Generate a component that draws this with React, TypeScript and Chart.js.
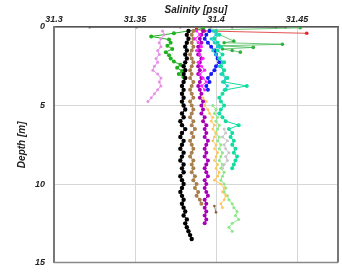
import React, { useEffect, useRef } from "react";
import { Chart, registerables } from "chart.js";
Chart.register(...registerables);

// shared depth grid [m]
const DEPTHS = [
  0.25, 0.5, 0.75, 1.0, 1.25, 1.5, 1.75, 2.0, 2.25, 2.5,
  2.75, 3.0, 3.25, 3.5, 3.75, 4.0, 4.25, 4.5, 4.75, 5.0,
  5.25, 5.5, 5.75, 6.0, 6.25, 6.5, 6.75, 7.0, 7.25, 7.5,
  7.75, 8.0, 8.25, 8.5, 8.75, 9.0, 9.25, 9.5, 9.75, 10.0,
  10.25, 10.5, 10.75, 11.0, 11.25, 11.5, 11.75, 12.0, 12.25, 12.5,
  12.75, 13.0, 13.25, 13.5, 13.75,
];

const X_TICKS = [31.3, 31.35, 31.4, 31.45];
const Y_TICKS = [0, 5, 10, 15];

// salinity profiles (psu), starting at DEPTHS[0] unless noted
const BLACK = [
  31.383, 31.382, 31.383, 31.382, 31.381, 31.382, 31.381, 31.382, 31.381, 31.38,
  31.381, 31.38, 31.381, 31.38, 31.379, 31.38, 31.379, 31.38, 31.379, 31.38,
  31.381, 31.379, 31.38, 31.378, 31.379, 31.381, 31.379, 31.378, 31.38, 31.379,
  31.378, 31.38, 31.379, 31.378, 31.38, 31.379, 31.38, 31.378, 31.379, 31.38,
  31.379, 31.378, 31.379, 31.38, 31.379, 31.38, 31.381, 31.38, 31.382, 31.381,
  31.382, 31.383, 31.384, 31.385,
];
const BROWN = [
  31.386, 31.385, 31.386, 31.385, 31.386, 31.385, 31.384, 31.385, 31.386, 31.385,
  31.384, 31.385, 31.384, 31.386, 31.385, 31.384, 31.385, 31.386, 31.384, 31.385,
  31.386, 31.385, 31.384, 31.386, 31.385, 31.387, 31.385, 31.386, 31.384, 31.385,
  31.386, 31.385, 31.384, 31.386, 31.385, 31.386, 31.385, 31.387, 31.386, 31.388,
  31.387, 31.389, 31.388, 31.39, 31.391,
];
const PURPLE = [
  31.392, 31.391, 31.39, 31.391, 31.389, 31.39, 31.389, 31.391, 31.39, 31.389,
  31.39, 31.389, 31.391, 31.39, 31.389, 31.39, 31.391, 31.39, 31.392, 31.391,
  31.392, 31.391, 31.393, 31.392, 31.394, 31.393, 31.394, 31.393, 31.395, 31.394,
  31.393, 31.394, 31.393, 31.395, 31.394, 31.393, 31.394, 31.395, 31.393, 31.394,
  31.393, 31.394, 31.395, 31.393, 31.394, 31.393, 31.394, 31.393, 31.394, 31.393,
];
const MAGENTA = [
  31.388, 31.39, 31.387, 31.389, 31.391, 31.388, 31.39, 31.392, 31.389, 31.391,
  31.393, 31.39, 31.392, 31.394, 31.391, 31.393,
];
const VIOLET = [
  31.367, 31.368, 31.366, 31.365, 31.366, 31.364, 31.365, 31.363, 31.364, 31.362,
  31.361, 31.364, 31.366, 31.365, 31.366, 31.364, 31.362, 31.36, 31.358,
];
const BLUE = [
  31.396, 31.394, 31.393, 31.395, 31.397, 31.399, 31.4, 31.401, 31.402, 31.4,
  31.399, 31.397, 31.395, 31.396, 31.394, 31.395,
];
const CYAN = [
  31.398, 31.4, 31.397, 31.399, 31.401, 31.398, 31.4, 31.402, 31.404, 31.402,
  31.405, 31.403, 31.406, 31.404, 31.407, 31.405,
];
const TEAL = [
  31.4, 31.402, 31.399, 31.401, 31.403, 31.401, 31.404, 31.402, 31.405, 31.403,
  31.405, 31.404, 31.407, 31.405, 31.419, 31.406, 31.404, 31.402, 31.403, 31.405,
  31.403, 31.402, 31.404, 31.406, 31.414, 31.408, 31.41, 31.409, 31.411, 31.41,
  31.412, 31.411, 31.413, 31.412, 31.411, 31.41,
];
// starts at 5.0 m
const LIGHTGREEN = [
  31.398, 31.4, 31.399, 31.401, 31.4, 31.402, 31.401, 31.4, 31.402, 31.401,
  31.403, 31.402, 31.404, 31.403, 31.402, 31.404, 31.403, 31.405, 31.404, 31.403,
  31.405, 31.406, 31.405, 31.407, 31.408, 31.41, 31.411, 31.413, 31.412, 31.414,
  31.41, 31.408, 31.41,
];
// starts at 4.5 m
const ORANGE = [
  31.392, 31.394, 31.393, 31.395, 31.396, 31.398, 31.397, 31.399, 31.398, 31.4,
  31.399, 31.398, 31.4, 31.399, 31.401, 31.4, 31.399, 31.401, 31.4, 31.402,
  31.401, 31.399, 31.403, 31.405, 31.404, 31.406, 31.405, 31.403, 31.404,
];
// starts at 6.5 m
const LIGHTGRAY = [
  31.405, 31.406, 31.404, 31.407, 31.405, 31.406, 31.408, 31.406, 31.407, 31.405, 31.404,
];

const GREEN_DEPTH = [0.1, 0.4, 0.6, 0.8, 1.0, 1.2, 1.4, 1.6, 1.8, 2.0, 2.2, 2.4, 2.6, 2.8, 3.0, 3.2];
const GREEN_SAL = [
  31.392, 31.374, 31.36, 31.371, 31.372, 31.37, 31.373, 31.369, 31.371, 31.372,
  31.374, 31.378, 31.376, 31.379, 31.377, 31.38,
];
const GREEN2_DEPTH = [0.05, 0.2, 0.9, 1.0, 1.1, 1.2, 1.3, 1.4, 1.5, 1.6];
const GREEN2_SAL = [31.452, 31.396, 31.411, 31.405, 31.441, 31.402, 31.423, 31.404, 31.41, 31.415];
const RED_DEPTH = [0.15, 0.25, 0.4];
const RED_SAL = [31.388, 31.393, 31.456];
const SURF_DEPTH = [0.02, 0.02, 0.02, 0.02, 0.02, 0.02, 0.02];
const SURF_SAL = [31.322, 31.351, 31.378, 31.397, 31.41, 31.437, 31.443];
const SIENNA_DEPTH = [11.4, 11.8];
const SIENNA_SAL = [31.399, 31.4];

const grid = (vals: number[], start: number) =>
  vals.map((v, i) => ({ x: v, y: DEPTHS[start + i] }));
const pairs = (xs: number[], ys: number[]) => xs.map((v, i) => ({ x: v, y: ys[i] }));

const FONT = "'Liberation Sans', Arial, sans-serif";

export default function App() {
  const ref = useRef<HTMLCanvasElement>(null);
  useEffect(() => {
    document.body.style.margin = "0";
    const ds = (label: string, data: any[], color: string, r = 1.8, bw = 1) => ({
      label,
      data,
      showLine: true,
      borderColor: color,
      backgroundColor: color,
      pointBackgroundColor: color,
      pointBorderColor: color,
      pointRadius: r,
      pointBorderWidth: 0,
      borderWidth: bw,
    });
    const frame = {
      id: "frame",
      afterDatasetsDraw(chart: any) {
        const { ctx, chartArea: a } = chart;
        ctx.save();
        ctx.strokeStyle = "#888";
        ctx.lineWidth = 1.5;
        ctx.beginPath();
        ctx.moveTo(a.left, a.bottom);
        ctx.lineTo(a.right, a.bottom);
        ctx.stroke();
        ctx.strokeStyle = "#777";
        ctx.lineWidth = 2;
        ctx.beginPath();
        ctx.moveTo(a.right, a.top);
        ctx.lineTo(a.right, a.bottom);
        ctx.stroke();
        ctx.restore();
      },
    };
    const chart = new Chart(ref.current!, {
      type: "scatter",
      data: {
        datasets: [
          ds("lightgray", grid(LIGHTGRAY, 25), "#c8c8c8", 1.5),
          ds("orange", grid(ORANGE, 17), "#ffc45a", 1.3),
          ds("lightgreen", grid(LIGHTGREEN, 19), "#8ee88a", 1.5),
          ds("teal", grid(TEAL, 0), "#12dca0", 2),
          ds("cyan", grid(CYAN, 0), "#22c8d8", 1.6),
          ds("blue", grid(BLUE, 0), "#1a1aff", 2),
          ds("magenta", grid(MAGENTA, 0), "#ff20ff", 1.6),
          ds("purple", grid(PURPLE, 0), "#a800b8", 2),
          ds("brown", grid(BROWN, 0), "#a8804f", 2),
          ds("black", grid(BLACK, 0), "#000000", 2.2),
          ds("violet", grid(VIOLET, 0), "#e890e8", 1.5),
          ds("green", pairs(GREEN_SAL, GREEN_DEPTH), "#20b020", 2),
          ds("green2", pairs(GREEN2_SAL, GREEN2_DEPTH), "#30b040", 1.8, 0.7),
          ds("red", pairs(RED_SAL, RED_DEPTH), "#e02828", 1.8, 0.8),
          ds("surface", pairs(SURF_SAL, SURF_DEPTH), "#606060", 1.3, 0.8),
          ds("sienna", pairs(SIENNA_SAL, SIENNA_DEPTH), "#8a6040", 1.3, 0.8),
        ],
      },
      options: {
        responsive: false,
        animation: false,
        layout: { padding: { top: 0, left: 0, right: 4, bottom: 7 } },
        plugins: { legend: { display: false }, tooltip: { enabled: false } },
        scales: {
          x: {
            type: "linear",
            position: "top",
            min: 31.3,
            max: 31.4753,
            afterBuildTicks: (s: any) => {
              s.ticks = X_TICKS.map((v) => ({ value: v }));
            },
            afterFit: (s: any) => {
              s.height = 27;
            },
            ticks: {
              padding: 2,
              color: "#222",
              font: { family: FONT, size: 9, style: "italic", weight: "bold" },
              callback: (v: any) => String(v),
            },
            grid: { color: "#d6d6d6", lineWidth: 1, drawTicks: false },
            border: { color: "#555", width: 1.5 },
            title: {
              display: true,
              text: "Salinity [psu]",
              color: "#222",
              padding: { top: 4, bottom: 0 },
              font: { family: FONT, size: 10, style: "italic", weight: "bold" },
            },
          },
          y: {
            type: "linear",
            reverse: true,
            min: 0,
            max: 15,
            afterBuildTicks: (s: any) => {
              s.ticks = Y_TICKS.map((v) => ({ value: v }));
            },
            afterFit: (s: any) => {
              s.width = 54;
            },
            ticks: {
              padding: 9,
              color: "#222",
              font: { family: FONT, size: 9, style: "italic", weight: "bold" },
            },
            grid: { color: "#d6d6d6", lineWidth: 1, drawTicks: false },
            border: { color: "#777", width: 2 },
            title: {
              display: true,
              text: "Depth [m]",
              color: "#222",
              padding: { top: 16, bottom: 0 },
              font: { family: FONT, size: 10, style: "italic", weight: "bold" },
            },
          },
        },
      },
      plugins: [frame],
    } as any);
    return () => chart.destroy();
  }, []);
  return <canvas ref={ref} width={342} height={277} />;
}
